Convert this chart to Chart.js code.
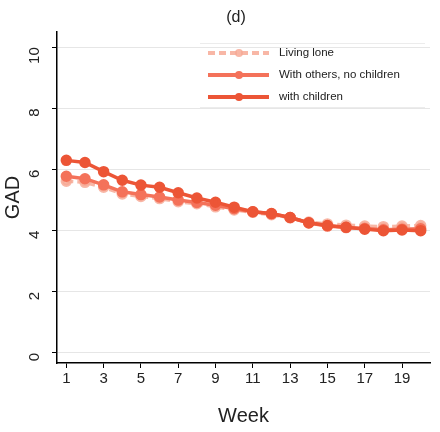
<!DOCTYPE html>
<html lang="en">
<head>
    <meta charset="UTF-8">
    <title>GAD by week</title>
    <script src="https://cdn.jsdelivr.net/npm/chart.js"></script>
    <style>
        body {
            margin: 0;
            padding: 0;
            background-color: white;
        }
        #gadChart {
            display: block;
        }
    </style>
</head>
<body>
    <canvas id="gadChart" width="440" height="432"></canvas>
    <script>
        const weeks = [1, 2, 3, 4, 5, 6, 7, 8, 9, 10, 11, 12, 13, 14, 15, 16, 17, 18, 19, 20];
        const livingAlone = [5.62, 5.58, 5.42, 5.20, 5.12, 5.05, 4.95, 4.88, 4.78, 4.68, 4.60, 4.52, 4.42, 4.28, 4.22, 4.18, 4.15, 4.13, 4.15, 4.17];
        const withOthers = [5.78, 5.70, 5.50, 5.27, 5.18, 5.10, 5.00, 4.92, 4.83, 4.72, 4.62, 4.55, 4.43, 4.25, 4.15, 4.10, 4.07, 4.03, 4.05, 4.06];
        const withChildren = [6.30, 6.23, 5.93, 5.65, 5.49, 5.42, 5.24, 5.07, 4.93, 4.77, 4.62, 4.56, 4.43, 4.26, 4.17, 4.11, 4.05, 4.00, 4.02, 4.00];
        const xTicks = [1, 3, 5, 7, 9, 11, 13, 15, 17, 19];
        const yTicks = [0, 2, 4, 6, 8, 10];
        const seriesNames = ["Living lone", "With others, no children", "with children"];

        const colAlone = "rgba(247,170,150,0.85)";
        const colOthers = "#f4725a";
        const colChildren = "#ec5536";

        function pts(vals) {
            return weeks.map((w, i) => ({ x: w, y: vals[i] }));
        }

        // legend + title drawn by hand
        const extras = {
            id: "extras",
            afterDraw(chart) {
                const ctx = chart.ctx;
                ctx.save();
                ctx.fillStyle = "#222";
                ctx.font = "16px 'Liberation Sans', Arial, sans-serif";
                ctx.textAlign = "center";
                ctx.textBaseline = "middle";
                ctx.fillText("(d)", 236, 18);

                ctx.strokeStyle = "#ececec";
                ctx.lineWidth = 1;
                ctx.beginPath();
                ctx.moveTo(200, 43.5); ctx.lineTo(425, 43.5);
                ctx.moveTo(200, 107.5); ctx.lineTo(425, 107.5);
                ctx.stroke();

                const items = [
                    { c: colAlone, dash: [7, 4], y: 53 },
                    { c: colOthers, dash: [], y: 75 },
                    { c: colChildren, dash: [], y: 97 }
                ];
                items.forEach((it, i) => {
                    ctx.strokeStyle = it.c;
                    ctx.lineWidth = 4;
                    ctx.setLineDash(it.dash);
                    ctx.beginPath();
                    ctx.moveTo(208, it.y);
                    ctx.lineTo(269, it.y);
                    ctx.stroke();
                    ctx.setLineDash([]);
                    ctx.fillStyle = it.c;
                    ctx.beginPath();
                    ctx.arc(239, it.y, 4, 0, Math.PI * 2);
                    ctx.fill();
                    ctx.fillStyle = "#222";
                    ctx.textAlign = "left";
                    ctx.font = "11.5px 'Liberation Sans', Arial, sans-serif";
                    ctx.fillText(seriesNames[i], 279, it.y);
                });
                ctx.restore();
            }
        };

        new Chart(document.getElementById("gadChart"), {
            type: "line",
            data: {
                datasets: [
                    {
                        label: seriesNames[2],
                        data: pts(withChildren),
                        borderColor: colChildren,
                        backgroundColor: colChildren,
                        borderWidth: 3.5,
                        pointRadius: 4,
                        order: 1
                    },
                    {
                        label: seriesNames[1],
                        data: pts(withOthers),
                        borderColor: colOthers,
                        backgroundColor: colOthers,
                        borderWidth: 3.5,
                        pointRadius: 4,
                        order: 2
                    },
                    {
                        label: seriesNames[0],
                        data: pts(livingAlone),
                        borderColor: colAlone,
                        backgroundColor: colAlone,
                        borderWidth: 3.5,
                        borderDash: [7, 4],
                        pointRadius: 4,
                        order: 3
                    }
                ]
            },
            options: {
                responsive: false,
                animation: false,
                maintainAspectRatio: false,
                layout: { padding: { top: 32, right: 10, left: 0, bottom: 0 } },
                plugins: {
                    legend: { display: false },
                    tooltip: { enabled: false }
                },
                scales: {
                    x: {
                        type: "linear",
                        min: 0.5,
                        max: 20.5,
                        afterBuildTicks: s => { s.ticks = xTicks.map(v => ({ value: v })); },
                        afterFit: s => { s.height = 69; },
                        border: { display: true, color: "#000", width: 1.5 },
                        grid: { drawOnChartArea: false, drawTicks: true, tickLength: 5, color: "#000" },
                        ticks: {
                            color: "#222",
                            padding: 2,
                            maxRotation: 0,
                            font: { size: 15, family: "'Liberation Sans', Arial, sans-serif" }
                        },
                        title: {
                            display: true,
                            text: "Week",
                            color: "#222",
                            padding: { top: 8 },
                            font: { size: 20, family: "'Liberation Sans', Arial, sans-serif" }
                        }
                    },
                    y: {
                        min: -0.33,
                        max: 10.5,
                        afterBuildTicks: s => { s.ticks = yTicks.map(v => ({ value: v })); },
                        afterFit: s => { s.width = 57; },
                        border: { display: true, color: "#000", width: 1.5 },
                        grid: { color: "#e6e6e6", lineWidth: 1, tickLength: 5, tickColor: "#000" },
                        ticks: {
                            color: "#222",
                            padding: 17,
                            minRotation: 90,
                            maxRotation: 90,
                            font: { size: 15, family: "'Liberation Sans', Arial, sans-serif" }
                        },
                        title: {
                            display: true,
                            text: "GAD",
                            color: "#222",
                            padding: { bottom: 0, top: 1 },
                            font: { size: 20, family: "'Liberation Sans', Arial, sans-serif" }
                        }
                    }
                }
            },
            plugins: [extras]
        });
    </script>
</body>
</html>
